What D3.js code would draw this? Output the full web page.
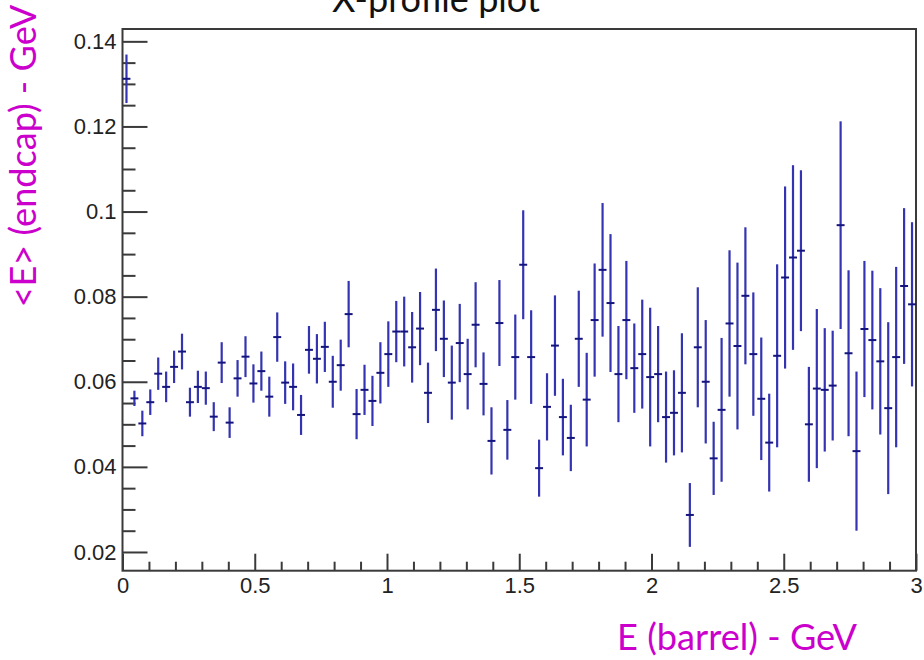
<!DOCTYPE html>
<html>
<head>
<meta charset="utf-8">
<script src="https://cdn.jsdelivr.net/npm/d3@7"></script>
<style>
  html, body { margin: 0; padding: 0; background: #ffffff; }
  svg { display: block; }
</style>
</head>
<body>
<svg id="chart" width="924" height="660"></svg>
<script>
// ---- data ----
const xDomain = [0, 3];
const yDomain = [0.0156, 0.1429];
const binWidth = 0.03;
const binCenters = [
  0.015,0.045,0.075,0.105,0.135,0.165,0.195,0.225,0.255,0.285,
  0.315,0.345,0.375,0.405,0.435,0.465,0.495,0.525,0.555,0.585,
  0.615,0.645,0.675,0.705,0.735,0.765,0.795,0.825,0.855,0.885,
  0.915,0.945,0.975,1.005,1.035,1.065,1.095,1.125,1.155,1.185,
  1.215,1.245,1.275,1.305,1.335,1.365,1.395,1.425,1.455,1.485,
  1.515,1.545,1.575,1.605,1.635,1.665,1.695,1.725,1.755,1.785,
  1.815,1.845,1.875,1.905,1.935,1.965,1.995,2.025,2.055,2.085,
  2.115,2.145,2.175,2.205,2.235,2.265,2.295,2.325,2.355,2.385,
  2.415,2.445,2.475,2.505,2.535,2.565,2.595,2.625,2.655,2.685,
  2.715,2.745,2.775,2.805,2.835,2.865,2.895,2.925,2.955,2.985
];
const meanValues = [
  0.1312,0.0561,0.0502,0.0552,0.0619,0.0588,0.0635,0.0671,0.0552,0.0588,
  0.0585,0.0518,0.0645,0.0504,0.0608,0.0659,0.0596,0.0625,0.0565,0.0705,
  0.0598,0.0588,0.0522,0.0675,0.0654,0.0682,0.0600,0.0639,0.0759,0.0524,
  0.0581,0.0555,0.0621,0.0665,0.0718,0.0718,0.0681,0.0725,0.0574,0.0769,
  0.0701,0.0598,0.0691,0.0618,0.0734,0.0595,0.0461,0.0738,0.0487,0.0658,
  0.0875,0.0658,0.0397,0.0541,0.0685,0.0517,0.0468,0.0701,0.0558,0.0745,
  0.0863,0.0785,0.0618,0.0745,0.0632,0.0665,0.0611,0.0618,0.0517,0.0527,
  0.0574,0.0287,0.0681,0.0600,0.0420,0.0534,0.0737,0.0684,0.0802,0.0665,
  0.0560,0.0457,0.0661,0.0845,0.0892,0.0908,0.0500,0.0584,0.0581,0.0591,
  0.0968,0.0667,0.0437,0.0724,0.0698,0.0648,0.0538,0.0658,0.0825,0.0782
];
const errorValues = [
  0.0057,0.0018,0.0030,0.0030,0.0038,0.0036,0.0038,0.0042,0.0034,0.0038,
  0.0039,0.0034,0.0048,0.0036,0.0043,0.0048,0.0045,0.0046,0.0047,0.0058,
  0.0050,0.0055,0.0047,0.0056,0.0058,0.0059,0.0061,0.0060,0.0078,0.0059,
  0.0059,0.0059,0.0072,0.0077,0.0072,0.0082,0.0083,0.0086,0.0071,0.0097,
  0.0090,0.0087,0.0092,0.0083,0.0100,0.0074,0.0079,0.0101,0.0070,0.0100,
  0.0128,0.0110,0.0067,0.0079,0.0118,0.0090,0.0078,0.0113,0.0110,0.0133,
  0.0157,0.0162,0.0113,0.0139,0.0105,0.0128,0.0163,0.0113,0.0107,0.0100,
  0.0140,0.0075,0.0141,0.0145,0.0086,0.0169,0.0172,0.0196,0.0161,0.0145,
  0.0144,0.0115,0.0215,0.0214,0.0217,0.0189,0.0135,0.0187,0.0145,0.0129,
  0.0244,0.0195,0.0187,0.0160,0.0163,0.0172,0.0202,0.0212,0.0183,0.0193
];
const xMajorTicks = [0, 0.5, 1, 1.5, 2, 2.5, 3];
const xTickLabels = ["0", "0.5", "1", "1.5", "2", "2.5", "3"];
const yMajorTicks = [0.02, 0.04, 0.06, 0.08, 0.1, 0.12, 0.14];
const yTickLabels = ["0.02", "0.04", "0.06", "0.08", "0.1", "0.12", "0.14"];
const titleText = "X-profile plot";
const xLabelText = "E (barrel) - GeV";
const yLabelText = "<E> (endcap) - GeV";

// ---- layout ----
const frame = { left: 122.5, right: 916, top: 29, bottom: 570.7 };
const svg = d3.select("#chart");

const x = d3.scaleLinear().domain(xDomain).range([frame.left, frame.right]);
const y = d3.scaleLinear().domain(yDomain).range([frame.bottom, frame.top]);

const axisColor = "#3a3a3a";
const tickFont = "'Liberation Sans', Arial, Helvetica, sans-serif";

// minor ticks
const xMinor = d3.range(0, 31).map(i => i / 10).filter(v => !xMajorTicks.some(m => Math.abs(m - v) < 1e-9));
const yMinor = d3.range(0, 40).map(i => 0.015 + i * 0.005)
  .filter(v => v >= yDomain[0] && v <= yDomain[1])
  .filter(v => !yMajorTicks.some(m => Math.abs(m - v) < 1e-9));

// x axis minor
svg.append("g")
  .attr("transform", `translate(0,${frame.bottom})`)
  .call(d3.axisBottom(x).tickValues(xMinor).tickSizeInner(-9).tickSizeOuter(0).tickFormat(""))
  .call(g => g.select(".domain").remove())
  .call(g => g.selectAll("line").attr("stroke", axisColor).attr("stroke-width", 2));

// x axis major
svg.append("g")
  .attr("transform", `translate(0,${frame.bottom})`)
  .call(d3.axisBottom(x).tickValues(xMajorTicks).tickSizeInner(-17).tickSizeOuter(0).tickPadding(7)
    .tickFormat((d, i) => xTickLabels[i]))
  .call(g => g.select(".domain").remove())
  .call(g => g.selectAll("line").attr("stroke", axisColor).attr("stroke-width", 2))
  .call(g => g.selectAll("text").attr("fill", "#222").style("font-family", tickFont).style("font-size", "22px"));

// y axis minor
svg.append("g")
  .attr("transform", `translate(${frame.left},0)`)
  .call(d3.axisLeft(y).tickValues(yMinor).tickSizeInner(-13).tickSizeOuter(0).tickFormat(""))
  .call(g => g.select(".domain").remove())
  .call(g => g.selectAll("line").attr("stroke", axisColor).attr("stroke-width", 2));

// y axis major
svg.append("g")
  .attr("transform", `translate(${frame.left},0)`)
  .call(d3.axisLeft(y).tickValues(yMajorTicks).tickSizeInner(-25).tickSizeOuter(0).tickPadding(6)
    .tickFormat((d, i) => yTickLabels[i]))
  .call(g => g.select(".domain").remove())
  .call(g => g.selectAll("line").attr("stroke", axisColor).attr("stroke-width", 2))
  .call(g => g.selectAll("text").attr("fill", "#222").style("font-family", tickFont).style("font-size", "22px"));

// frame
svg.append("rect")
  .attr("x", x(xDomain[0])).attr("y", y(yDomain[1]))
  .attr("width", x(xDomain[1]) - x(xDomain[0]))
  .attr("height", y(yDomain[0]) - y(yDomain[1]))
  .attr("fill", "none").attr("stroke", axisColor).attr("stroke-width", 2);

// data: profile points with error bars
const pts = binCenters.map((c, i) => ({ c, m: meanValues[i], e: errorValues[i] }));
const gData = svg.append("g");
gData.selectAll("line.v").data(pts).join("line")
  .attr("class", "v")
  .attr("x1", d => x(d.c)).attr("x2", d => x(d.c))
  .attr("y1", d => y(Math.min(d.m + d.e, yDomain[1])))
  .attr("y2", d => y(Math.max(d.m - d.e, yDomain[0])))
  .attr("stroke", "#3434b2").attr("stroke-width", 2.2);
gData.selectAll("line.h").data(pts).join("line")
  .attr("class", "h")
  .attr("x1", d => x(d.c - binWidth / 2)).attr("x2", d => x(d.c + binWidth / 2))
  .attr("y1", d => y(d.m)).attr("y2", d => y(d.m))
  .attr("stroke", "#14147e").attr("stroke-width", 2);

// title
const title = svg.append("text")
  .attr("x", 436).attr("y", 12)
  .attr("text-anchor", "middle")
  .style("font-family", "Lato, 'Open Sans', sans-serif")
  .style("font-size", "36px")
  .attr("fill", "#111")
  .text(titleText);

// axis labels (magenta)
const labelFont = "Lato, 'Open Sans', sans-serif";
const xLab = svg.append("text")
  .attr("x", 737).attr("y", 650)
  .attr("text-anchor", "middle")
  .style("font-family", labelFont)
  .style("font-size", "32px")
  .attr("fill", "#cc00cc")
  .text(xLabelText);

const yLab = svg.append("text")
  .attr("transform", "translate(36,156) rotate(-90)")
  .attr("text-anchor", "middle")
  .style("font-family", labelFont)
  .style("font-size", "32px")
  .attr("fill", "#cc00cc")
  .text(yLabelText);

// fit label font sizes to the reference text widths
function fitWidth(sel, target, base) {
  const w = sel.node().getComputedTextLength();
  if (w > 0) sel.style("font-size", (base * target / w).toFixed(2) + "px");
}
fitWidth(xLab, 240, 32);
fitWidth(yLab, 303, 32);
fitWidth(title, 208, 36);
</script>
</body>
</html>
